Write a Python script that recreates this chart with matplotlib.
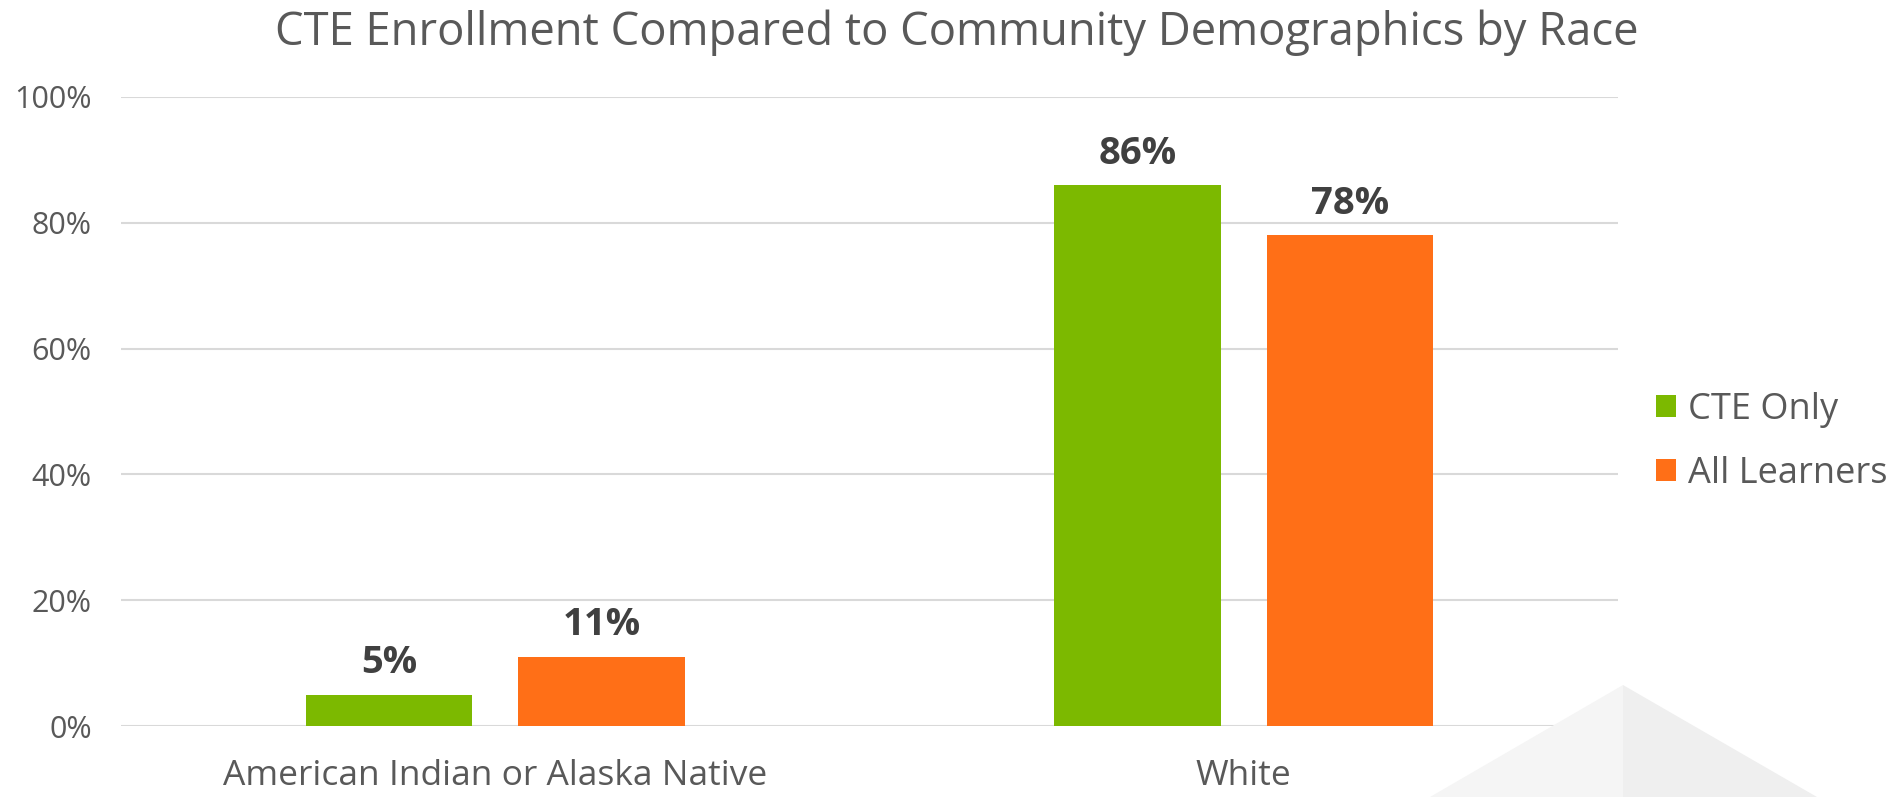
import matplotlib.pyplot as plt
from matplotlib.patches import Polygon
import numpy as np

plt.rcParams['font.family'] = ['Open Sans', 'DejaVu Sans']

categories = ['American Indian or Alaska Native', 'White']
cte_only = [5, 86]
all_learners = [11, 78]
series_names = ['CTE Only', 'All Learners']
y_ticks = [0, 20, 40, 60, 80, 100]

GREEN = '#7cb900'
ORANGE = '#ff6f17'
TEXT = '#595959'

fig = plt.figure(figsize=(18.96, 7.97), dpi=100)

# faint triangle in the lower right corner, behind everything
tri_l = Polygon([(1430, 0), (1623, 112), (1623, 0)], closed=True,
                transform=None, facecolor='#f5f5f5', edgecolor='none', zorder=0)
tri_r = Polygon([(1623, 0), (1623, 112), (1817, 0)], closed=True,
                transform=None, facecolor='#efefef', edgecolor='none', zorder=0)
fig.patches.extend([tri_l, tri_r])

ax = fig.add_axes([121 / 1896, 1 - 726 / 797, 1497 / 1896, 629 / 797])
ax.patch.set_alpha(0)

x = np.arange(len(categories))
w = 0.222
off = 0.142
b1 = ax.bar(x - off, cte_only, w, color=GREEN, label=series_names[0], zorder=3)
b2 = ax.bar(x + off, all_learners, w, color=ORANGE, label=series_names[1], zorder=3)

for bars, vals in ((b1, cte_only), (b2, all_learners)):
    for rect, v in zip(bars, vals):
        ax.annotate(f'{v}%', (rect.get_x() + rect.get_width() / 2, v),
                    xytext=(0, 9), textcoords='offset points',
                    ha='center', va='bottom', fontsize=27.5, fontweight='bold',
                    color='#404040')

ax.set_xlim(-0.5, 1.5)
ax.set_ylim(0, 100)
ax.set_yticks(y_ticks)
ax.set_yticklabels([f'{t}%' for t in y_ticks])
ax.set_xticks(x)
ax.set_xticklabels(categories)
ax.tick_params(axis='y', length=0, pad=21, labelsize=22, labelcolor=TEXT)
ax.tick_params(axis='x', length=0, pad=24, labelsize=25.5, labelcolor=TEXT)
ax.grid(axis='y', color='#d9d9d9', linewidth=1.5, zorder=1)
ax.set_axisbelow(True)
for s in ax.spines.values():
    s.set_visible(False)

fig.text(957 / 1896, 1 - 33 / 797, 'CTE Enrollment Compared to Community Demographics by Race',
         ha='center', va='center', fontsize=32.7, color=TEXT)

fig.legend(handles=[b1, b2], loc='center left',
           bbox_to_anchor=(1656 / 1896, 1 - 442 / 797),
           frameon=False, fontsize=26, labelcolor=TEXT, borderpad=0,
           borderaxespad=0, handlelength=0.55, handleheight=0.55,
           handletextpad=0.35, labelspacing=0.78)

fig.savefig('out.png', dpi=100)
